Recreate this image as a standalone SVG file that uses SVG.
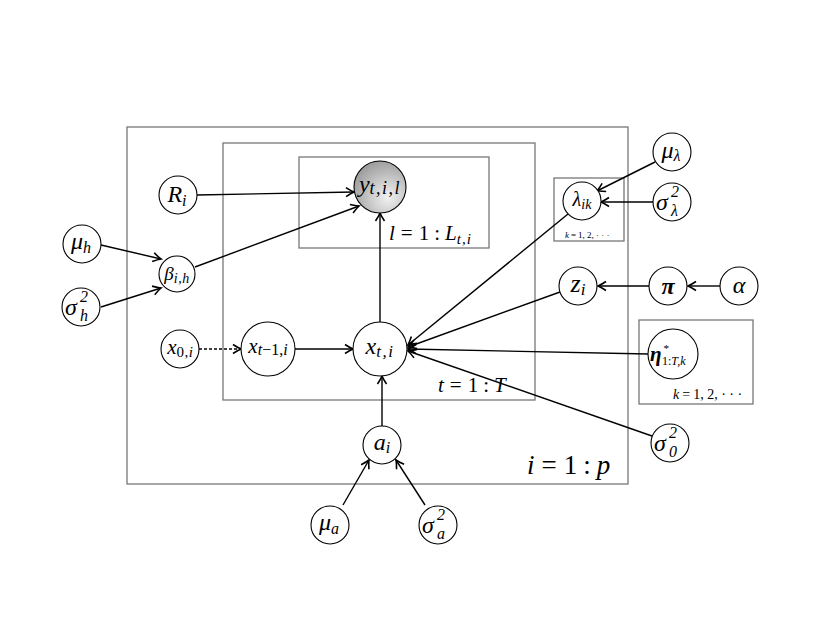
<svg xmlns="http://www.w3.org/2000/svg" width="830" height="642" viewBox="0 0 830 642">
<style>
.plate{fill:none;stroke:#777;stroke-width:1.3}
.node{fill:#fff;stroke:#000;stroke-width:1.1}
.e{stroke:#000;stroke-width:1.4;fill:none;marker-end:url(#arr)}
text{font-family:"Liberation Serif","DejaVu Serif",serif;font-style:italic;fill:#000}
.m{font-size:24px}
.s{font-size:16px}
.up{font-style:normal}
</style>
<defs>
<marker id="arr" viewBox="-10 -6 12 12" refX="0" refY="0" markerWidth="12" markerHeight="12" markerUnits="userSpaceOnUse" orient="auto">
<path d="M-8,-4.5 Q-3,-1.2 0,0 Q-3,1.2 -8,4.5" fill="none" stroke="#000" stroke-width="1.6"/>
</marker>
<radialGradient id="g" cx="0.65" cy="0.7" r="0.75" fx="0.65" fy="0.7">
<stop offset="0" stop-color="#f2f2f2"/>
<stop offset="1" stop-color="#9a9a9a"/>
</radialGradient>
</defs>
<rect width="830" height="642" fill="#fff"/>

<g id="plates">
<rect class="plate" x="127" y="127" width="501" height="357"/>
<rect class="plate" x="223" y="143" width="312" height="257"/>
<rect class="plate" x="299" y="157" width="190" height="91"/>
<rect class="plate" x="554" y="178" width="70" height="63"/>
<rect class="plate" x="639" y="320" width="114" height="84"/>
<text x="389" y="240" font-size="21">l<tspan class="up" dx="6">=</tspan><tspan class="up" dx="6">1</tspan><tspan class="up" dx="5">:</tspan><tspan dx="5">L</tspan><tspan font-size="15" dy="4" letter-spacing="1">t,i</tspan></text>
<text x="438" y="392" font-size="21">t<tspan class="up" dx="6">=</tspan><tspan class="up" dx="6">1</tspan><tspan class="up" dx="5">:</tspan><tspan dx="5">T</tspan></text>
<text x="527" y="474" font-size="27">i<tspan class="up" dx="7">=</tspan><tspan class="up" dx="7">1</tspan><tspan class="up" dx="6">:</tspan><tspan dx="6">p</tspan></text>
<text x="565" y="238" font-size="9" fill="#444">k<tspan class="up" dx="2">=</tspan><tspan class="up" dx="2">1, 2, · · ·</tspan></text>
<text x="673" y="399" font-size="14">k<tspan class="up" dx="3">=</tspan><tspan class="up" dx="3">1, 2, · · ·</tspan></text>
</g>

<g id="connectors">
<line class="e" x1="197" y1="195" x2="354" y2="192"/>
<line class="e" x1="195" y1="267" x2="359" y2="206"/>
<line class="e" x1="101" y1="245" x2="161" y2="259"/>
<line class="e" x1="101" y1="307" x2="161" y2="288"/>
<line class="e" x1="199" y1="349" x2="241" y2="349" stroke-dasharray="3,2"/>
<line class="e" x1="295" y1="349" x2="353" y2="349"/>
<line class="e" x1="380" y1="322" x2="380" y2="213"/>
<line class="e" x1="382" y1="426" x2="382" y2="376"/>
<line class="e" x1="343" y1="505" x2="369" y2="460"/>
<line class="e" x1="425" y1="505" x2="396" y2="460"/>
<line class="e" x1="568" y1="214" x2="408" y2="345"/>
<line class="e" x1="560" y1="292" x2="408" y2="347"/>
<line class="e" x1="648" y1="354" x2="408" y2="349"/>
<line class="e" x1="652" y1="436" x2="408" y2="351"/>
<line class="e" x1="655" y1="162" x2="597" y2="191"/>
<line class="e" x1="653" y1="202" x2="601" y2="202"/>
<line class="e" x1="649" y1="286" x2="598" y2="286"/>
<line class="e" x1="720" y1="286" x2="688" y2="286"/>
</g>

<g id="n-R">
<circle class="node" cx="178" cy="195" r="19"/>
<text x="177" y="202" text-anchor="middle" class="m">R<tspan class="s" dy="4">i</tspan></text>
</g>
<g id="n-y">
<circle cx="380" cy="187" r="26" fill="url(#g)" stroke="#000" stroke-width="1.1"/>
<text x="380" y="192" text-anchor="middle" class="m">y<tspan font-size="18" dy="2" letter-spacing="1.5">t,i,l</tspan></text>
</g>
<g id="n-muh">
<circle class="node" cx="82" cy="244" r="19"/>
<text x="81" y="249" text-anchor="middle" class="m">μ<tspan class="s" dy="4">h</tspan></text>
</g>
<g id="n-sigh">
<circle class="node" cx="81" cy="307" r="19"/>
<text x="65" y="315" class="m">σ</text>
<text x="80" y="302" class="s" font-style="normal">2</text>
<text x="80" y="321" class="s">h</text>
</g>
<g id="n-beta">
<circle class="node" cx="177" cy="274" r="18"/>
<text x="177" y="280" text-anchor="middle" font-size="19">β<tspan font-size="14" dy="3" letter-spacing="0.5">i,h</tspan></text>
</g>
<g id="n-x0">
<circle class="node" cx="180" cy="349" r="19"/>
<text x="180" y="354" text-anchor="middle" font-size="21">x<tspan font-size="15" dy="3" letter-spacing="0.5" font-style="normal">0,</tspan><tspan font-size="15">i</tspan></text>
</g>
<g id="n-xtm1">
<circle class="node" cx="268" cy="349" r="27"/>
<text x="268" y="353" text-anchor="middle" font-size="21">x<tspan font-size="16" dy="2">t</tspan><tspan font-size="16" font-style="normal">−1,</tspan><tspan font-size="16">i</tspan></text>
</g>
<g id="n-xt">
<circle class="node" cx="380" cy="349" r="27"/>
<text x="380" y="354" text-anchor="middle" class="m">x<tspan font-size="17" dy="3" letter-spacing="1.5">t,i</tspan></text>
</g>
<g id="n-a">
<circle class="node" cx="382" cy="445" r="19"/>
<text x="382" y="450" text-anchor="middle" class="m">a<tspan class="s" dy="3">i</tspan></text>
</g>
<g id="n-mua">
<circle class="node" cx="330" cy="525" r="19"/>
<text x="329" y="530" text-anchor="middle" class="m">μ<tspan class="s" dy="4">a</tspan></text>
</g>
<g id="n-siga">
<circle class="node" cx="438" cy="525" r="19"/>
<text x="422" y="533" class="m">σ</text>
<text x="437" y="520" class="s" font-style="normal">2</text>
<text x="437" y="539" class="s">a</text>
</g>
<g id="n-lambda">
<circle class="node" cx="582" cy="201" r="19"/>
<text x="582" y="206" text-anchor="middle" font-size="20">λ<tspan font-size="14" dy="3">ik</tspan></text>
</g>
<g id="n-mul">
<circle class="node" cx="672" cy="152" r="19"/>
<text x="671" y="158" text-anchor="middle" class="m">μ<tspan class="s" dy="3">λ</tspan></text>
</g>
<g id="n-sigl">
<circle class="node" cx="672" cy="202" r="19"/>
<text x="656" y="210" class="m">σ</text>
<text x="671" y="197" class="s" font-style="normal">2</text>
<text x="671" y="216" class="s">λ</text>
</g>
<g id="n-z">
<circle class="node" cx="578" cy="286" r="19"/>
<text x="578" y="292" text-anchor="middle" font-size="26">z<tspan font-size="17" dy="3">i</tspan></text>
</g>
<g id="n-pi">
<circle class="node" cx="668" cy="286" r="19"/>
<text x="668" y="294" text-anchor="middle" font-size="24" font-weight="bold">π</text>
</g>
<g id="n-alpha">
<circle class="node" cx="739" cy="286" r="19"/>
<text x="739" y="293" text-anchor="middle" class="m">α</text>
</g>
<g id="n-eta">
<circle class="node" cx="673" cy="354" r="25"/>
<text x="650" y="361" font-size="21" font-weight="bold">η</text>
<text x="663" y="352" font-size="11" font-style="normal">*</text>
<text x="662" y="365" font-size="12"><tspan font-style="normal">1:</tspan>T,k</text>
</g>
<g id="n-sig0">
<circle class="node" cx="670" cy="443" r="19"/>
<text x="654" y="451" class="m">σ</text>
<text x="669" y="438" class="s" font-style="normal">2</text>
<text x="669" y="457" class="s" font-style="normal">0</text>
</g>
</svg>
